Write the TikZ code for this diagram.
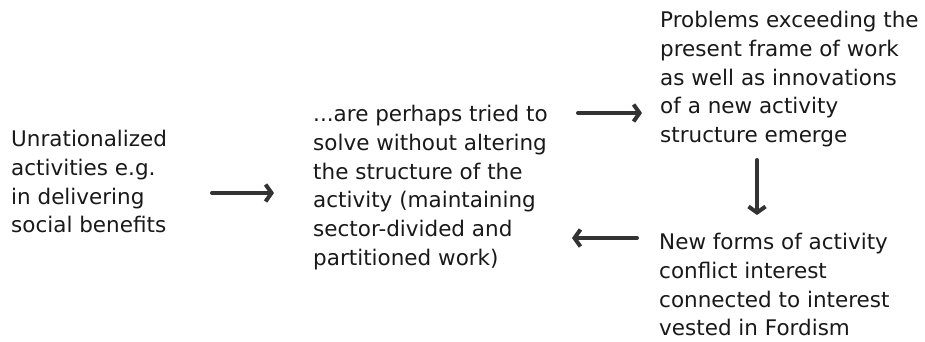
\documentclass[tikz,border=0pt]{standalone}
\usepackage{fontspec}
\setmainfont{DejaVu Sans}
\usetikzlibrary{arrows.meta}

\begin{document}
\begin{tikzpicture}[
  x=1pt, y=-1pt,
  font=\fontsize{21.5}{28.8}\selectfont,
  txt/.style={
    anchor=north west, align=left, inner sep=0pt,
    text=black!90,
  },
  flow/.style={-{Straight Barb[length=6pt,width=17pt]}, line width=4pt, line cap=round, draw=black!80},
]
\useasboundingbox (0,0) rectangle (925,341);

\node[txt] (unrat) at (11,130) {Unrationalized\\activities e.g.\\in delivering\\social benefits};
\node[txt] (tried) at (313,105) {...are perhaps tried to\\solve without altering\\the structure of the\\activity (maintaining\\sector-divided and\\partitioned work)};
\node[txt] (probs) at (660,11) {Problems exceeding the\\present frame of work\\as well as innovations\\of a new activity\\structure emerge};
\node[txt] (newf) at (659,233) {New forms of activity\\conflict interest\\connected to interest\\vested in Fordism};

% arrow ends
\coordinate (a1s) at (212,193);
\coordinate (a1e) at (274,193);
\coordinate (a2s) at (578,113);
\coordinate (a2e) at (642,113);
\coordinate (a3s) at (637,238);
\coordinate (a3e) at (572,238);
\coordinate (a4s) at (757,160);
\coordinate (a4e) at (757,215);

\draw[flow] (a1s) -- (a1e);
\draw[flow] (a2s) -- (a2e);
\draw[flow] (a3s) -- (a3e);
\draw[flow] (a4s) -- (a4e);

\end{tikzpicture}
\end{document}
